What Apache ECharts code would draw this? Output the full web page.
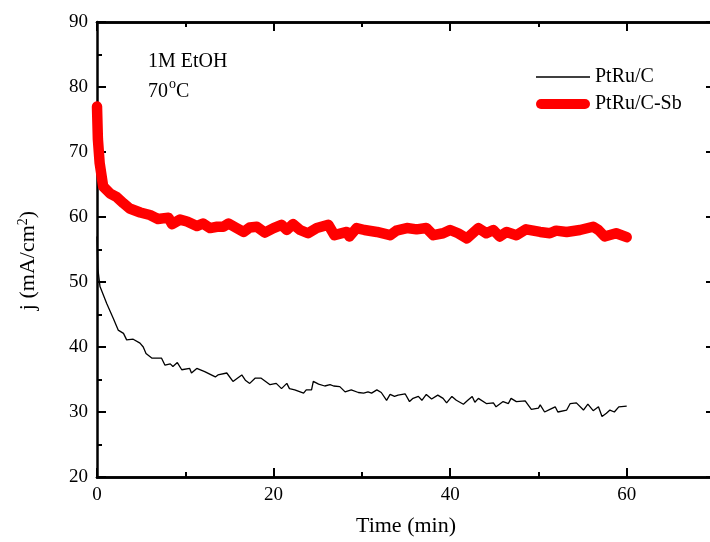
<!DOCTYPE html>
<html>
<head>
<meta charset="utf-8">
<script src="https://cdn.jsdelivr.net/npm/echarts@6/dist/echarts.min.js"></script>
<style>
html,body{margin:0;padding:0;background:#fff;}
#chart{width:710px;height:542px;}
</style>
</head>
<body>
<div id="chart"></div>
<script>
// PtRu/C (black thin line)
var timeC = [
  0, 0.1, 0.34, 1.1, 1.85, 2.4, 3.0, 3.36, 4.1, 4.87,
  5.24, 5.55, 6.2, 7.3, 7.7, 8.3, 8.6, 9.1, 9.6, 10.5,
  10.7, 11.3, 12.2, 13.4, 13.7, 14.7, 15.4, 16.4, 16.8, 17.3,
  17.9, 18.6, 19.6, 20.3, 20.9, 21.5, 21.8, 22.4, 23.4, 23.7,
  24.3, 24.5, 25.1, 25.8, 26.4, 26.8, 27.5, 28.1, 28.8, 29.6,
  30.2, 30.7, 31.1, 31.7, 32.2, 32.8, 33.2, 33.7, 34.1, 34.9,
  35.4, 35.8, 36.4, 36.8, 37.3, 37.9, 38.6, 39.2, 39.6, 40.2,
  40.7, 41.5, 42.0, 42.5, 42.8, 43.2, 44.1, 44.9, 45.2, 46.0,
  46.6, 46.9, 47.5, 48.5, 49.2, 50.0, 50.2, 50.7, 51.3, 51.9,
  52.2, 53.2, 53.6, 54.3, 55.1, 55.6, 56.2, 56.8, 57.2, 57.7,
  58.1, 58.6, 59.1, 60.0
];
var jC = [
  57, 52, 49.3, 46.7, 44.4, 42.6, 42.1, 41.1, 41.2, 40.6,
  40.0, 39.0, 38.3, 38.3, 37.2, 37.4, 37.0, 37.6, 36.5, 36.7,
  36.0, 36.7, 36.2, 35.4, 35.7, 36.0, 34.7, 35.7, 34.9, 34.4,
  35.2, 35.2, 34.2, 34.4, 33.6, 34.4, 33.6, 33.4, 32.9, 33.4,
  33.4, 34.7, 34.3, 34.0, 34.2, 34.0, 33.9, 33.1, 33.4, 33.0,
  32.9, 33.1, 32.9, 33.4, 33.0, 31.8, 32.7, 32.4, 32.6, 32.8,
  31.6, 32.1, 32.4, 31.8, 32.7, 32.0, 32.6, 32.1, 31.4, 32.4,
  31.8, 31.2, 31.8, 32.4, 31.5, 32.1, 31.3, 31.4, 30.8, 31.6,
  31.3, 32.1, 31.6, 31.7, 30.4, 30.6, 31.1, 30.0, 30.4, 30.8,
  30.0, 30.3, 31.3, 31.4, 30.3, 31.2, 30.2, 30.8, 29.3, 29.8,
  30.3, 30.0, 30.8, 30.9
];
// PtRu/C-Sb (red thick line)
var timeSb = [
  0, 0.1, 0.3, 0.7, 1.5, 2.2, 3.0, 3.7, 4.9, 6.0,
  6.9, 8.1, 8.5, 9.4, 10.2, 11.3, 12.0, 12.8, 13.6, 14.3,
  14.9, 15.8, 16.6, 17.3, 18.1, 19.0, 20.0, 20.9, 21.5, 22.2,
  23.0, 23.9, 24.9, 26.2, 26.9, 28.3, 28.6, 29.4, 30.3, 31.7,
  33.2, 33.9, 35.1, 36.2, 37.3, 38.1, 39.2, 40.0, 40.9, 41.9,
  43.2, 44.1, 44.9, 45.6, 46.4, 47.5, 48.6, 50.2, 51.3, 52.0,
  53.2, 54.7, 56.2, 56.8, 57.5, 58.8, 60.0
];
var jSb = [
  77.0, 72, 68.3, 64.7, 63.6, 63.1, 62.1, 61.3, 60.7, 60.3,
  59.7, 59.9, 58.9, 59.6, 59.3, 58.6, 59.0, 58.3, 58.5, 58.5,
  59.0, 58.3, 57.7, 58.4, 58.5, 57.6, 58.3, 58.8, 58.0, 58.9,
  58.0, 57.5, 58.3, 58.8, 57.2, 57.7, 57.0, 58.3, 58.0, 57.7,
  57.2, 57.9, 58.3, 58.1, 58.3, 57.2, 57.5, 58.0, 57.5, 56.7,
  58.3, 57.5, 58.0, 57.0, 57.7, 57.2, 58.1, 57.7, 57.5, 57.9,
  57.7, 58.0, 58.5, 58.0, 57.0, 57.5, 56.9
];
var seriesNames = ['PtRu/C', 'PtRu/C-Sb'];
var xTickLabels = [0, 20, 40, 60];
var xMin = 0, xMax = 70, yMin = 20, yMax = 90;

function zip(a, b) { return a.map(function (v, i) { return [v, b[i]]; }); }

var FONT = '"Liberation Serif", "Times New Roman", serif';
var AXLINE = { color: '#000', width: 2.5 };
var SUP = { fontFamily: FONT, fontSize: 14, lineHeight: 14, padding: [0, 0, 10, 0], color: '#000', fill: '#000' };

function xAx(pos, major, showLabel) {
  return {
    type: 'value', position: pos, min: xMin, max: xMax,
    interval: major ? 20 : 10,
    axisLine: { show: true, onZero: false, lineStyle: AXLINE },
    axisTick: { show: true, inside: true, length: major ? 9 : 5, lineStyle: { color: '#000', width: 2 } },
    axisLabel: {
      show: showLabel, margin: 9, color: '#000', fontFamily: FONT, fontSize: 19,
      formatter: function (v) { return xTickLabels.indexOf(v) >= 0 ? String(v) : ''; }
    },
    splitLine: { show: false },
    name: showLabel ? 'Time (min)' : '',
    nameLocation: 'middle', nameGap: 38,
    nameTextStyle: { color: '#000', fontFamily: FONT, fontSize: 22 }
  };
}
function yAx(pos, showLabel) {
  return {
    type: 'value', position: pos, min: yMin, max: yMax, interval: 10,
    axisLine: { show: true, onZero: false, lineStyle: AXLINE },
    axisTick: { show: true, inside: true, length: 9, lineStyle: { color: '#000', width: 2 } },
    minorTick: { show: true, splitNumber: 2, length: 5, lineStyle: { color: '#000', width: 2 } },
    axisLabel: { show: showLabel, margin: 9, color: '#000', fontFamily: FONT, fontSize: 19 },
    splitLine: { show: false }, minorSplitLine: { show: false },
    name: showLabel ? 'j (mA/cm{sup|2})' : '',
    nameLocation: 'middle', nameGap: 58, nameRotate: 90,
    nameTextStyle: { color: '#000', fontFamily: FONT, fontSize: 22, padding: [0, 22, 0, 0], rich: { sup: SUP } }
  };
}

var chart = echarts.init(document.getElementById('chart'), null, { renderer: 'canvas' });
chart.setOption({
  backgroundColor: '#fff',
  animation: false,
  grid: { left: 97, top: 22, width: 618, height: 455, containLabel: false, outerBoundsMode: 'none' },
  xAxis: [xAx('bottom', true, true), xAx('bottom', false, false), xAx('top', true, false), xAx('top', false, false)],
  yAxis: [yAx('left', true), yAx('right', false)],
  legend: {
    orient: 'vertical', left: 536, top: 67, padding: 0, itemWidth: 54, itemHeight: 12, itemGap: 7,
    textStyle: { color: '#000', fontFamily: FONT, fontSize: 20 },
    data: [
      { name: seriesNames[0], icon: 'path://M2,5.4L51,5.4L51,6.6L2,6.6Z', itemStyle: { color: '#000' } },
      { name: seriesNames[1], icon: 'path://M5,0L49,0A5,5,0,0,1,49,10L5,10A5,5,0,0,1,5,0Z', itemStyle: { color: '#ff0000' } }
    ]
  },
  graphic: [
    { type: 'text', left: 148, top: 52, style: { text: '1M EtOH', font: '20px ' + FONT, fill: '#000' } },
    { type: 'text', left: 148, top: 82, style: { text: '70', font: '20px ' + FONT, fill: '#000' } },
    { type: 'text', left: 169, top: 77, style: { text: 'o', font: '14px ' + FONT, fill: '#000' } },
    { type: 'text', left: 176, top: 82, style: { text: 'C', font: '20px ' + FONT, fill: '#000' } }
  ],
  series: [
    {
      name: seriesNames[0], type: 'line', xAxisIndex: 0, yAxisIndex: 0,
      data: zip(timeC, jC), showSymbol: false, symbol: 'none', smooth: false,
      lineStyle: { color: '#000', width: 1.3 }, itemStyle: { color: '#000' }, z: 3
    },
    {
      name: seriesNames[1], type: 'line', xAxisIndex: 0, yAxisIndex: 0,
      data: zip(timeSb, jSb), showSymbol: false, symbol: 'none', smooth: false,
      lineStyle: { color: '#ff0000', width: 10.5, cap: 'round', join: 'round' },
      itemStyle: { color: '#ff0000' }, z: 2
    }
  ]
});
</script>
</body>
</html>
